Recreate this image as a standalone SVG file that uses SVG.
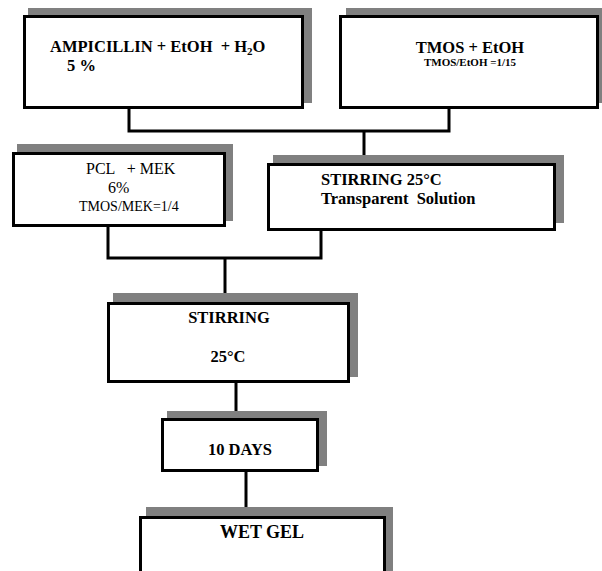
<svg xmlns="http://www.w3.org/2000/svg" width="602" height="571" viewBox="0 0 602 571">
<style>
.sh{fill:#808080}
.bx{fill:#fff;stroke:#000;stroke-width:3}
.t{font-family:"Liberation Serif","Times New Roman",serif;font-weight:bold;font-size:16.5px;fill:#000}
.n{font-family:"Liberation Serif","Times New Roman",serif;font-size:16px;fill:#000}
.s11{font-size:11px}
.s14{font-size:14px}
.s18{font-size:18px}
.c{fill:none;stroke:#000;stroke-width:3}
</style>
<rect width="602" height="571" fill="#fff"/>
<g id="connectors">
<path class="c" d="M129 108 V131 H449 V108"/>
<path class="c" d="M364 131 V155"/>
<path class="c" d="M108 227 V258 H321 V230"/>
<path class="c" d="M225 258 V293"/>
<path class="c" d="M236 383 V411"/>
<path class="c" d="M246 472 V516"/>
</g>
<g id="ampicillin">
<rect class="sh" x="28" y="8" width="284" height="95"/>
<rect class="bx" x="24.5" y="16.5" width="278" height="91"/>
<text class="t" x="50" y="52" xml:space="preserve">AMPICILLIN + EtOH  + H<tspan class="s11" dy="3">2</tspan><tspan dy="-3">O</tspan></text>
<text class="t" x="67" y="71">5 %</text>
</g>
<g id="tmos">
<rect class="sh" x="346" y="8" width="260" height="95"/>
<rect class="bx" x="340.5" y="16.5" width="257" height="91"/>
<text class="t" x="470" y="53" text-anchor="middle">TMOS + EtOH</text>
<text class="t s11" x="470" y="66" text-anchor="middle">TMOS/EtOH =1/15</text>
</g>
<g id="pcl">
<rect class="sh" x="17" y="144" width="216" height="77"/>
<rect class="bx" x="13.5" y="153.5" width="211" height="72"/>
<text class="n" x="86" y="174" xml:space="preserve">PCL   + MEK</text>
<text class="n" x="108" y="193">6%</text>
<text class="n s14" x="79" y="211">TMOS/MEK=1/4</text>
</g>
<g id="stirring25">
<rect class="sh" x="273" y="155" width="291" height="68"/>
<rect class="bx" x="268.5" y="164.5" width="286" height="65"/>
<text class="t" x="321" y="185">STIRRING 25°C</text>
<text class="t" x="321" y="204" xml:space="preserve">Transparent  Solution</text>
</g>
<g id="stirring">
<rect class="sh" x="113" y="293" width="245" height="84"/>
<rect class="bx" x="108.5" y="303.5" width="240" height="78"/>
<text class="t" x="229" y="323" text-anchor="middle">STIRRING</text>
<text class="t" x="228" y="362" text-anchor="middle">25°C</text>
</g>
<g id="days">
<rect class="sh" x="167" y="411" width="160" height="55"/>
<rect class="bx" x="162.5" y="419.5" width="155" height="51"/>
<text class="t" x="240" y="455" text-anchor="middle">10 DAYS</text>
</g>
<g id="wetgel">
<rect class="sh" x="146" y="507" width="247" height="80"/>
<rect class="bx" x="140.5" y="517.5" width="244" height="70"/>
<text class="t s18" x="262" y="538" text-anchor="middle">WET GEL</text>
</g>
</svg>
